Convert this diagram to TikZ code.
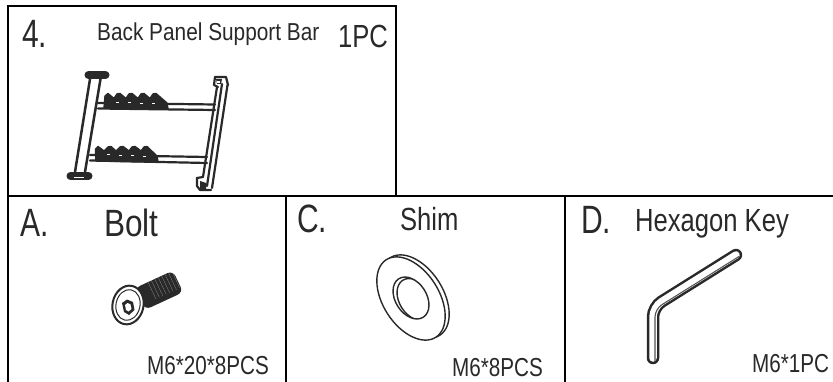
\documentclass[tikz,border=0pt]{standalone}
\usepackage{fontspec}
\setmainfont{Liberation Sans}
\definecolor{inkc}{gray}{0.16}
\tikzset{
 txt/.style={inner sep=0,anchor=base west,text=inkc},
 big/.style={txt,font=\fontsize{39.5}{40}\selectfont,xscale=.76},
 bolt/.style={txt,font=\fontsize{38}{40}\selectfont,xscale=.83},
 mid/.style={txt,font=\fontsize{32}{34}\selectfont,xscale=.8},
 lab/.style={txt,font=\fontsize{24.5}{26}\selectfont,xscale=.85},
 small/.style={txt,font=\fontsize{26}{28}\selectfont,xscale=.795},
 frame/.style={line width=2pt,black},
 ink/.style={draw=inkc,line join=round,line cap=round},
}
\begin{document}
\begin{tikzpicture}[x=1pt,y=-1pt]
\useasboundingbox (0,0) rectangle (833,382);
\fill[white] (0,0) rectangle (833,382);
% frames
\draw[frame] (7.5,382) -- (7.5,6) -- (396,6) -- (396,196);
\draw[frame] (7.5,196) -- (833,196);
\draw[frame] (286,196) -- (286,382);
\draw[frame] (565,196) -- (565,382);
% texts
\node[big] (n4) at (22,48) {4.};
\node[lab] (t4) at (97,41) {Back Panel Support Bar};
\node[mid] (pc) at (338,48) {1PC};
\node[big] (na) at (20,237) {A.};
\node[bolt] (tb) at (104,237) {Bolt};
\node[small] (ma) at (147,374) {M6*20*8PCS};
\node[big] (nc) at (297,233) {C.};
\node[mid] (ts) at (400,231) {Shim};
\node[small] (mc) at (452,376) {M6*8PCS};
\node[big] (nd) at (581,234) {D.};
\node[mid] (th) at (635,232) {Hexagon Key};
\node[small] (md) at (752,372) {M6*1PC};
% support bar rails
\begin{scope}[ink,line width=2.2pt]
\draw (98,103) -- (215,104.5);
\draw (98,108.5) -- (215,110);
\draw (90,155) -- (207,157);
\draw (90,160.5) -- (207,163);
\end{scope}
% teeth
\filldraw[ink,fill=inkc,line width=1.4pt] (104,108) -- (105,96) -- (108,93.5) -- (114,98.5) -- (117,94) -- (120,93.5) -- (126,98.5) -- (129,94) -- (132,93.5) -- (138,98.5) -- (141,94) -- (144,93.5) -- (150,98.5) -- (153,94) -- (156,93.5) -- (167,103) -- (168,109) -- cycle;
\filldraw[ink,fill=inkc,line width=1.4pt] (96,161) -- (95.5,149) -- (98,146.5) -- (104,151) -- (108,147) -- (111,146.5) -- (116,151) -- (120,147) -- (123,146.5) -- (129,151) -- (132,147) -- (135,146.5) -- (141,151) -- (144,147) -- (147,146.5) -- (157,156) -- (158,162) -- cycle;
\begin{scope}[white,line width=.6pt]
\draw (116,102)--(119,102) (128,102.5)--(131,102.5) (140,103)--(143,103) (152,103)--(155,103);
\draw (107,154.5)--(110,154.5) (119,155)--(122,155) (131,155.5)--(134,155.5) (143,156)--(146,156);
\end{scope}
% left bar
\begin{scope}[ink,line width=2.5pt]
\draw (90.5,76) -- (75,172);
\draw (101,76) -- (85,172);
\end{scope}
\draw[ink,line width=8pt] (88.5,75) -- (105.5,75);
\draw[ink,line width=8pt] (70.5,176) -- (88.5,176);
\draw[white,line width=.9pt] (74,177) -- (84,177);
% right bar
\begin{scope}[ink,line width=2.2pt]
\draw (217,87) -- (203,177);
\draw (222,84) -- (207,186);
\draw (227.5,85) -- (212,188);
\draw (215,77) -- (226,77) -- (228,85);
\draw (215,77) -- (214,85) -- (218,87);
\draw (197,178) -- (197,186) -- (200,190) -- (211,190);
\draw (197,178) -- (203,177);
\end{scope}
\fill[inkc] (200,181) -- (206,183) -- (206,189) -- (200,189) -- cycle;
\fill[inkc] (216,79) -- (222,79) -- (221,84) -- (217,84) -- cycle;
\fill[white] (217,81.5) -- (220,81.5) -- (220,83) -- (217,83) -- cycle;
% bolt
\fill[inkc,rounded corners=6pt] (134.8,288.2) -- (172.8,270.6) -- (183.2,292.2) -- (145.2,309.8) -- cycle;
\foreach \i in {0,...,8}
  \draw[white,line width=.25pt,opacity=.5] (147+3.4*\i,280-1.57*\i) -- ++(9,19);
\fill[white] (128,305) circle[x radius=19pt,y radius=15pt,rotate=78];
\draw[inkc,line width=2pt] (128,305) circle[x radius=19.5pt,y radius=15.5pt,rotate=78];
\draw[inkc,line width=1pt] (128,305) circle[x radius=15.5pt,y radius=12pt,rotate=78];
\fill[inkc] (122,303) -- (127,299.5) -- (133,302) -- (134.5,310) -- (129,315) -- (124,312) -- cycle;
\fill[white] (125,305) -- (127.5,303) -- (130.5,304.5) -- (131.5,309) -- (128.5,311.5) -- (126,310) -- cycle;
% shim
\begin{scope}[line width=1.4pt,draw=inkc]
\draw (415,296.5) circle[x radius=46pt,y radius=28pt,rotate=-57.5];
\filldraw[fill=white] (411,298.5) circle[x radius=46pt,y radius=28pt,rotate=-57.5];
\draw (411,298) circle[x radius=22.8pt,y radius=15.6pt,rotate=-57.5];
\begin{scope}
\clip (411,298) circle[x radius=22.8pt,y radius=15.6pt,rotate=-57.5];
\draw (415,299.5) circle[x radius=22.8pt,y radius=15.6pt,rotate=-57.5];
\end{scope}
\end{scope}
% hex key
\draw[inkc,line width=12.5pt,rounded corners=10pt,line cap=round] (653,358) -- (653,307) -- (736,255);
\draw[white,line width=7.5pt,rounded corners=10pt,line cap=round] (653,358) -- (653,307) -- (736,255);
\draw[inkc!80,line width=1.1pt,rounded corners=8pt] (655,361) -- (655,309) -- (739,256.5);
\end{tikzpicture}
\end{document}
